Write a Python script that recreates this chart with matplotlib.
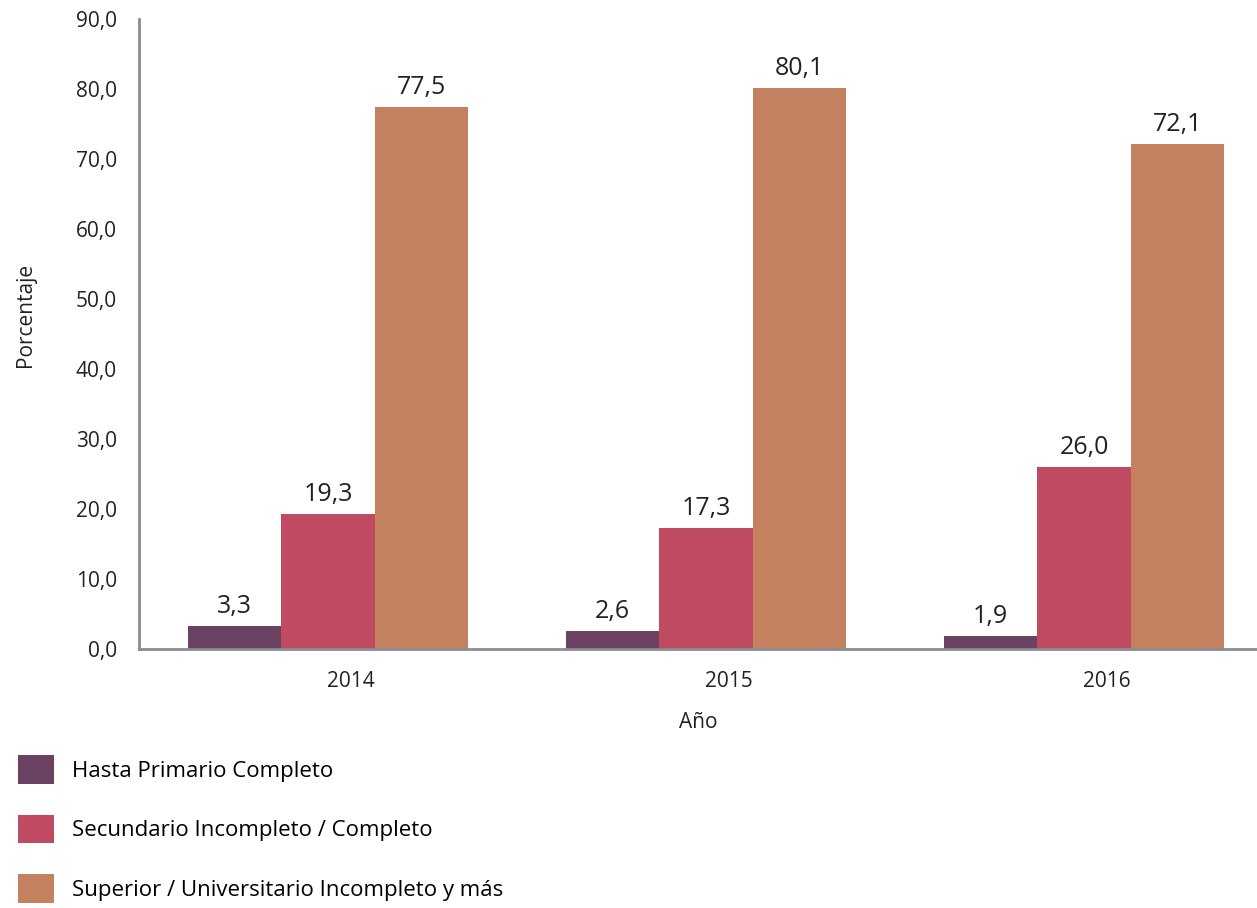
import numpy as np
import matplotlib.pyplot as plt

plt.rcParams['font.family'] = ['Open Sans', 'DejaVu Sans']

years = ['2014', '2015', '2016']
series = ['Hasta Primario Completo',
          'Secundario Incompleto / Completo',
          'Superior / Universitario Incompleto y más']
primario = [3.3, 2.6, 1.9]
secundario = [19.3, 17.3, 26.0]
superior = [77.5, 80.1, 72.1]
colors = ['#6B4262', '#C04A62', '#C48160']

W, H = 1257, 908
fig = plt.figure(figsize=(W / 100, H / 100), dpi=100)
ax = fig.add_axes([139 / W, 1 - 649 / H, (W - 139) / W, (649 - 19) / H])

x = np.arange(len(years))
bw = 0.247
values = [primario, secundario, superior]
handles = []
for i, (vals, col, name) in enumerate(zip(values, colors, series)):
    bars = ax.bar(x + (i - 1) * bw, vals, bw, color=col, label=name)
    handles.append(bars)
    for b, v in zip(bars, vals):
        ax.annotate(f'{v:.1f}'.replace('.', ','),
                    (b.get_x() + b.get_width() / 2, v),
                    xytext=(0, 5), textcoords='offset points',
                    ha='center', va='bottom', fontsize=18, color='#222222')

ax.set_xlim(-0.5, (W - 139) / 378 - 0.5)
ax.set_ylim(0, 90)
ax.set_yticks(np.arange(0, 91, 10))
ax.set_yticklabels([f'{t:.1f}'.replace('.', ',') for t in np.arange(0, 91, 10)])
ax.set_xticks(x + 0.06)
ax.set_xticklabels(years)
ax.tick_params(length=0, labelsize=15, colors='#222222')
ax.tick_params(axis='x', pad=16)
ax.tick_params(axis='y', pad=16)

for s in ['top', 'right']:
    ax.spines[s].set_visible(False)
for s in ['left', 'bottom']:
    ax.spines[s].set_color('#8A8D91')
    ax.spines[s].set_linewidth(2)

ax.set_xlabel('Año', fontsize=15, color='#222222', labelpad=14)
fig.text(25 / W, 1 - 315 / H, 'Porcentaje', rotation=90, fontsize=15,
         color='#222222', ha='center', va='center')

fig.legend(handles=handles, loc='upper left',
           bbox_to_anchor=(18 / W, 1 - 755 / H), frameon=False,
           fontsize=16, handlelength=1.6, handleheight=1.6,
           handletextpad=0.85, labelspacing=1.4, borderpad=0, borderaxespad=0)

fig.savefig('out.png', dpi=100)
